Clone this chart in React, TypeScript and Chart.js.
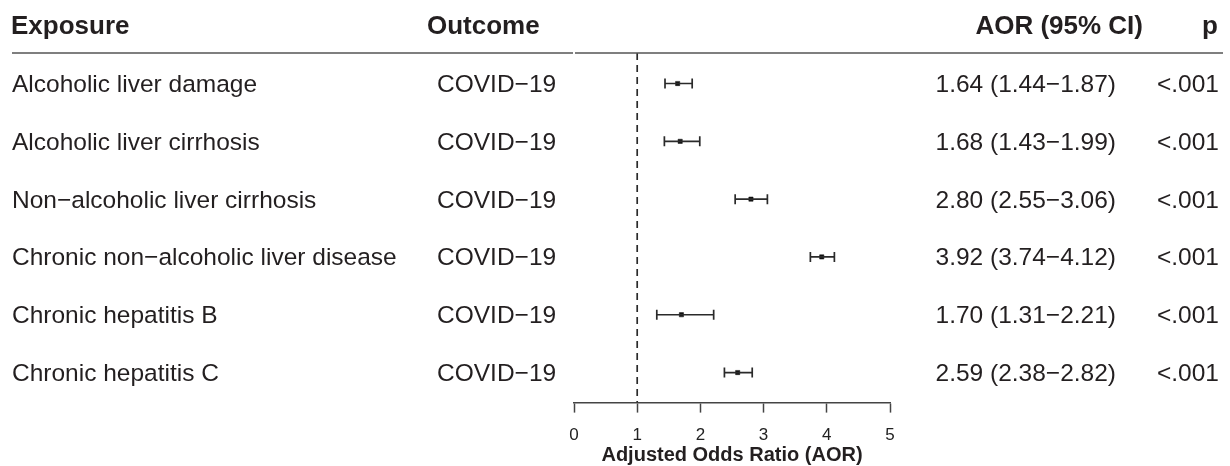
import React, { useEffect, useRef } from "react";
import { Chart, registerables } from "chart.js";

Chart.register(...registerables);

// ---------- data ----------
const exposures = [
  "Alcoholic liver damage",
  "Alcoholic liver cirrhosis",
  "Non\u2212alcoholic liver cirrhosis",
  "Chronic non\u2212alcoholic liver disease",
  "Chronic hepatitis B",
  "Chronic hepatitis C",
];
const outcomes = ["COVID\u221219", "COVID\u221219", "COVID\u221219", "COVID\u221219", "COVID\u221219", "COVID\u221219"];
const aorValues = [1.64, 1.68, 2.8, 3.92, 1.7, 2.59];
const ciLower = [1.44, 1.43, 2.55, 3.74, 1.31, 2.38];
const ciUpper = [1.87, 1.99, 3.06, 4.12, 2.21, 2.82];
const pValues = ["<.001", "<.001", "<.001", "<.001", "<.001", "<.001"];
const headerLabels = ["Exposure", "Outcome", "AOR (95% CI)", "p"];
const xTickValues = [0, 1, 2, 3, 4, 5];
const referenceValue = 1;
const axisTitle = "Adjusted Odds Ratio (AOR)";

// ---------- layout constants ----------
const W = 1230;
const H = 466;
const Y_MIN = -0.528;
const Y_MAX = 5.52;
const AXIS_HEIGHT = 63.4;
const FONT = '"Liberation Sans", Arial, Helvetica, sans-serif';
const INK = "#231f20";
const LINE = "#2a2a2a";

const fmt = (v: number) => v.toFixed(2);
const aorLabels = aorValues.map(
  (v, i) => `${fmt(v)} (${fmt(ciLower[i])}\u2212${fmt(ciUpper[i])})`
);

const tablePlugin = {
  id: "forestTable",
  afterDraw(chart: any) {
    const ctx = chart.ctx as CanvasRenderingContext2D;
    const yScale = chart.scales.y;
    ctx.save();
    // header
    ctx.fillStyle = INK;
    ctx.font = `bold 26px ${FONT}`;
    ctx.textBaseline = "alphabetic";
    ctx.textAlign = "left";
    ctx.fillText(headerLabels[0], 11, 34);
    ctx.fillText(headerLabels[1], 427, 34);
    ctx.textAlign = "right";
    ctx.fillText(headerLabels[2], 1143, 34);
    ctx.fillText(headerLabels[3], 1218, 34);

    // header rule
    ctx.strokeStyle = "#555";
    ctx.lineWidth = 1.5;
    ctx.beginPath();
    ctx.moveTo(12, 53);
    ctx.lineTo(573, 53);
    ctx.moveTo(575, 53);
    ctx.lineTo(1223, 53);
    ctx.stroke();

    // rows
    ctx.font = `24.5px ${FONT}`;
    for (let i = 0; i < exposures.length; i++) {
      const y = yScale.getPixelForValue(i) + 8.4;
      ctx.textAlign = "left";
      ctx.fillText(exposures[i], 12, y);
      ctx.fillText(outcomes[i], 437, y);
      ctx.textAlign = "right";
      ctx.fillText(aorLabels[i], 1116, y);
      ctx.fillText(pValues[i], 1219, y);
    }
    ctx.restore();
  },
};

export default function App() {
  const ref = useRef<HTMLCanvasElement>(null);

  useEffect(() => {
    if (!ref.current) return;
    const datasets: any[] = [];
    datasets.push({
      type: "line",
      data: [
        { x: referenceValue, y: Y_MIN },
        { x: referenceValue, y: Y_MAX },
      ],
      borderColor: LINE,
      borderWidth: 1.7,
      borderDash: [7, 5],
      pointRadius: 0,
      showLine: true,
    });
    for (let i = 0; i < aorValues.length; i++) {
      datasets.push({
        type: "line",
        data: [
          { x: ciLower[i], y: i },
          { x: ciUpper[i], y: i },
        ],
        borderColor: LINE,
        borderWidth: 1.7,
        showLine: true,
        pointStyle: "line",
        pointRotation: 90,
        pointRadius: 5,
        pointBorderWidth: 1.7,
        pointBorderColor: LINE,
        pointBackgroundColor: LINE,
      });
    }
    datasets.push({
      type: "scatter",
      data: aorValues.map((v, i) => ({ x: v, y: i })),
      pointStyle: "rect",
      pointRadius: 3,
      pointBorderWidth: 0.5,
      pointBackgroundColor: "#111",
      pointBorderColor: "#111",
      showLine: false,
    });

    const chart = new Chart(ref.current, {
      type: "scatter",
      data: { datasets },
      options: {
        responsive: false,
        animation: false,
        devicePixelRatio: 1,
        layout: { padding: { left: 574, right: 340, top: 53, bottom: 0 } },
        plugins: { legend: { display: false }, tooltip: { enabled: false } },
        scales: {
          x: {
            type: "linear",
            position: "bottom",
            min: xTickValues[0],
            max: xTickValues[xTickValues.length - 1],
            afterBuildTicks: (axis: any) => {
              axis.ticks = xTickValues.map((v) => ({ value: v }));
            },
            afterFit: (axis: any) => {
              axis.height = AXIS_HEIGHT;
            },
            ticks: {
              color: "#222",
              font: { family: FONT, size: 17 },
              padding: 13,
            },
            grid: {
              drawOnChartArea: false,
              drawTicks: true,
              tickLength: 10,
              tickColor: "#444",
              tickWidth: 1.5,
            },
            border: { display: true, color: "#444", width: 1.5 },
            title: {
              display: true,
              text: axisTitle,
              color: INK,
              font: { family: FONT, size: 20, weight: "bold", lineHeight: 1 },
              padding: { top: 0, bottom: 1 },
            },
          },
          y: {
            type: "linear",
            min: Y_MIN,
            max: Y_MAX,
            reverse: true,
            display: false,
          },
        },
      } as any,
      plugins: [tablePlugin],
    });
    return () => chart.destroy();
  }, []);

  return (
    <div style={{ position: "absolute", left: 0, top: 0, width: W, height: H, background: "#fff" }}>
      <canvas ref={ref} width={W} height={H} style={{ display: "block" }} />
    </div>
  );
}
